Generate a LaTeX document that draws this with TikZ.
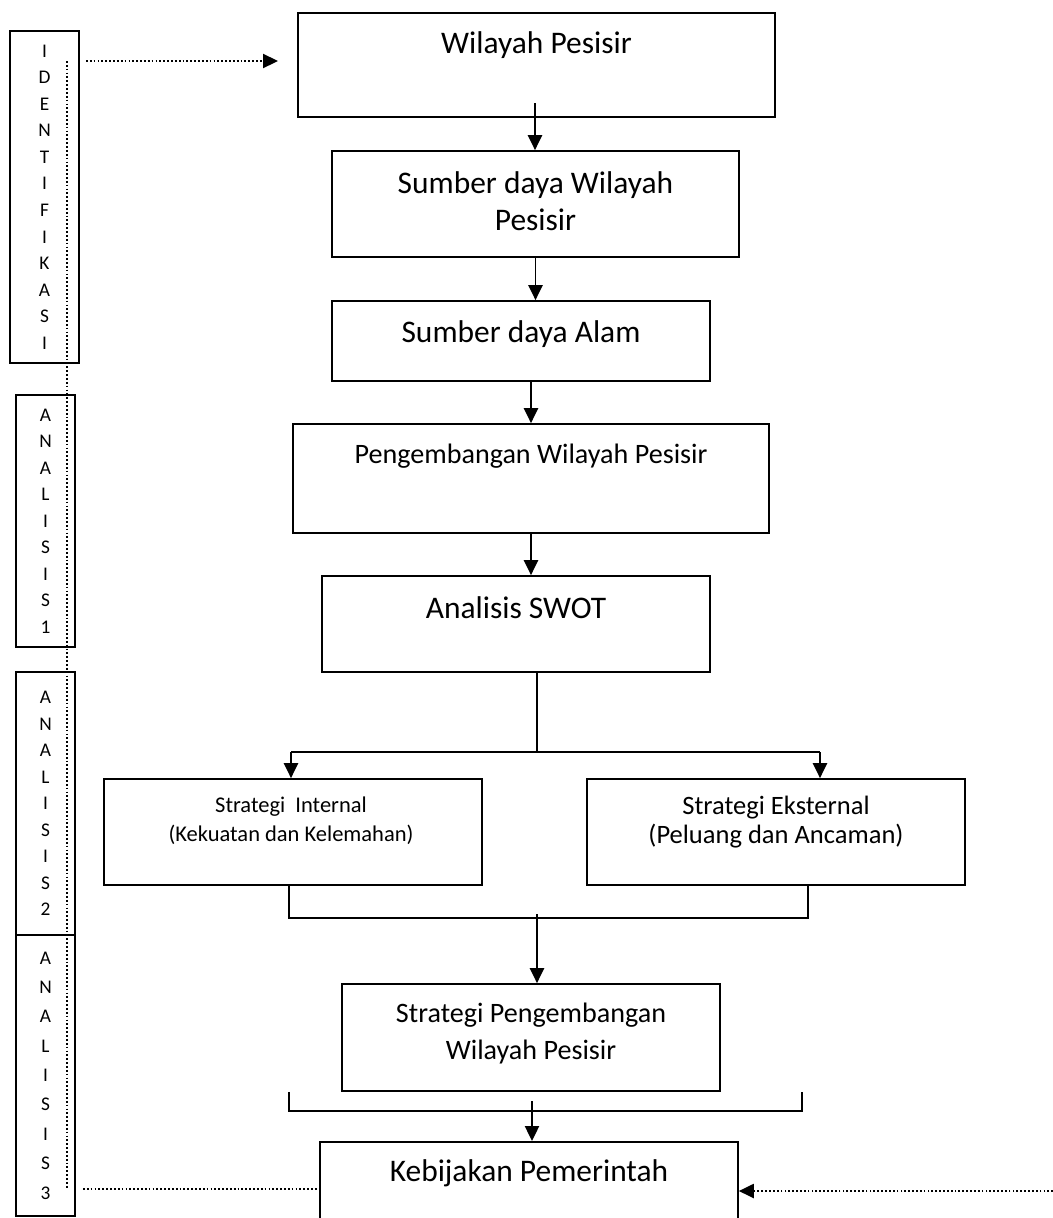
\documentclass[tikz,border=0pt]{standalone}
\usepackage{fontspec}
\setmainfont{Carlito}
\usetikzlibrary{arrows.meta,positioning}

\begin{document}
\begin{tikzpicture}[x=0.02cm, y=-0.02cm,
  box/.style = {draw, rectangle, line width=1pt, inner sep=0pt},
  side/.style = {box, minimum width=1.18cm, align=center, font=\fontsize{11}{15.1}\selectfont},
  big/.style = {anchor=base, align=center, font=\fontsize{17.9}{21}\selectfont},
  mid/.style = {anchor=base, align=center, font=\fontsize{16}{20.5}\selectfont},
  arr/.style = {-{Triangle[length=8.5pt,width=8pt]}, line width=1.1pt},
  link/.style = {line width=0.9pt},
  dots/.style = {line width=1pt, dash pattern=on 1pt off 1.2pt}]
  \useasboundingbox (0,0) rectangle (1053,1218);
  \clip (0,0) rectangle (1053,1218);

  % left column
  \node[side, minimum width=1.38cm, minimum height=6.64cm] (ident) at (44.5,197) {I\\D\\E\\N\\T\\I\\F\\I\\K\\A\\S\\I};
  \node[side, minimum height=5.04cm] (an1) at (45.5,521) {A\\N\\A\\L\\I\\S\\I\\S\\1};
  \node[side, minimum height=5.26cm] (an2) at (45.5,803.5) {A\\N\\A\\L\\I\\S\\I\\S\\2};
  \node[side, minimum height=5.62cm, font=\fontsize{11}{16.7}\selectfont] (an3) at (45.5,1075.5) {A\\N\\A\\L\\I\\S\\I\\S\\3};

  % main column (text baseline = last line)
  \node[box, minimum width=9.54cm, minimum height=2.08cm] (wp) at (536.5,65) {};
  \node[big] (wpt) at (536.5,53) {Wilayah Pesisir};
  \node[box, minimum width=8.14cm, minimum height=2.12cm] (sdwp) at (535.5,204) {};
  \node[big] (sdwpt) at (535.5,230) {Sumber daya Wilayah\\Pesisir};
  \node[box, minimum width=7.56cm, minimum height=1.6cm] (sda) at (521,341) {};
  \node[big] (sdat) at (521,342) {Sumber daya Alam};
  \node[box, minimum width=9.52cm, minimum height=2.18cm] (pwp) at (531,478.5) {};
  \node[mid] (pwpt) at (531,463) {Pengembangan Wilayah Pesisir};
  \node[box, minimum width=7.76cm, minimum height=1.92cm] (swot) at (516,624) {};
  \node[big] (swott) at (516,618) {Analisis SWOT};
  \node[box, minimum width=7.56cm, minimum height=2.12cm] (sint) at (293,832) {};
  \node[anchor=base, align=center, font=\fontsize{12.8}{16}\selectfont] (sintt) at (291,841) {Strategi\ \ Internal\\(Kekuatan dan Kelemahan)};
  \node[box, minimum width=7.56cm, minimum height=2.12cm] (sext) at (776,832) {};
  \node[anchor=base, align=center, font=\fontsize{15.1}{16.5}\selectfont] (sextt) at (776,843) {Strategi Eksternal\\(Peluang dan Ancaman)};
  \node[box, minimum width=7.56cm, minimum height=2.14cm] (spwp) at (531,1037.5) {};
  \node[mid] (spwpt) at (531,1059) {Strategi Pengembangan\\Wilayah Pesisir};
  \node[box, minimum width=8.36cm, minimum height=2.4cm, anchor=north] (kp) at (529,1141) {};
  \node[big] (kpt) at (529,1181) {Kebijakan Pemerintah};

  % arrows
  \coordinate (s1) at (535,103);
  \draw[arr] (s1) -- (s1 |- sdwp.north);
  \draw[arr] (sdwp.south) -- (sdwp.south |- sda.north);
  \draw[arr] (pwp.north |- sda.south) -- (pwp.north);
  \draw[arr] (pwp.south) -- (pwp.south |- swot.north);
  \coordinate (fork) at (537,752);
  \coordinate (fl) at (291,752);
  \coordinate (fr) at (820,752);
  \draw[link] (fork |- swot.south) -- (fork);
  \draw[link] (fl) -- (fr);
  \draw[arr] (fl) -- (fl |- sint.north);
  \draw[arr] (fr) -- (fr |- sext.north);
  \coordinate (jl) at (289,918);
  \coordinate (jr) at (808,918);
  \draw[link] (jl |- sint.south) -- (jl) -- (jr) -- (jr |- sext.south);
  \coordinate (s2) at (537,914);
  \draw[arr] (s2) -- (s2 |- spwp.north);
  \coordinate (kl) at (289,1111);
  \coordinate (kr) at (802,1111);
  \draw[link] (kl |- spwp.south) -- (kl) -- (kr) -- (kr |- spwp.south);
  \coordinate (s3) at (532,1101);
  \draw[arr] (s3) -- (s3 |- kp.north);

  % dotted guides
  \coordinate (d0) at (67,61);
  \coordinate (d1) at (67,1188);
  \draw[dots] (d0) -- (d1);
  \coordinate (t0) at (86,61);
  \coordinate (t1) at (278,61);
  \draw[dots, -{Triangle[length=8.5pt,width=8pt]}] (t0) -- (t1);
  \coordinate (e0) at (83,1189);
  \draw[dots] (e0) -- (e0 -| kp.west);
  \coordinate (e1) at (1053,1191);
  \draw[dots, -{Triangle[length=8.5pt,width=8pt]}] (e1) -- (e1 -| kp.east);
\end{tikzpicture}
\end{document}
